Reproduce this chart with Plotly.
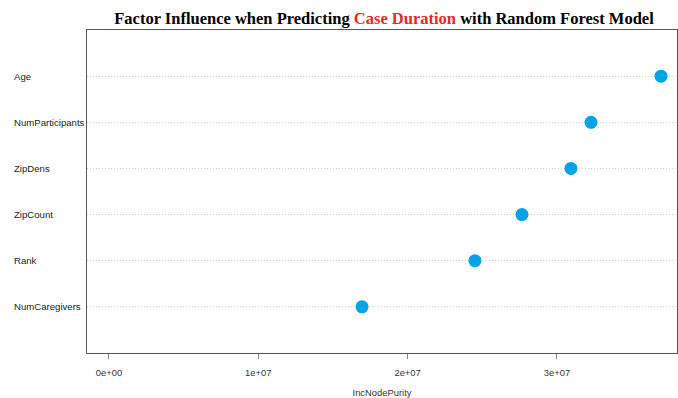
import plotly.graph_objects as go

# Variable importance from the random forest model (IncNodePurity)
factors = ["NumCaregivers", "Rank", "ZipCount", "ZipDens", "NumParticipants", "Age"]
purity = [1.695e7, 2.451e7, 2.766e7, 3.094e7, 3.228e7, 3.697e7]

tick_vals = [0, 1e7, 2e7, 3e7]
tick_text = ["0e+00", "1e+07", "2e+07", "3e+07"]

rows = list(range(1, len(factors) + 1))

fig = go.Figure()
fig.add_trace(go.Scatter(
    x=purity, y=rows, mode="markers",
    marker=dict(size=13, color="#00A3E6"),
    hovertext=factors, showlegend=False,
))

# factor names, left-aligned at the page edge
for name, r in zip(factors, rows):
    fig.add_annotation(
        x=-75 / 590, xref="paper", y=r, yref="y",
        text=name, showarrow=False, xanchor="left", yanchor="middle",
        font=dict(family="Liberation Sans, Arial", size=9.6, color="#222"),
    )

fig.update_layout(
    width=678, height=398,
    margin=dict(l=87, r=1, t=30, b=45, autoexpand=False),
    paper_bgcolor="white", plot_bgcolor="white",
    title=dict(
        text="<b>Factor Influence when Predicting <span style='color:#E8272B'>Case Duration</span> with Random Forest Model</b>",
        x=384 / 678, xanchor="center", y=1 - 18 / 398, yanchor="middle",
        font=dict(family="Liberation Serif, Times New Roman", size=16.5, color="black"),
    ),
    font=dict(family="Liberation Sans, Arial", size=9.4, color="#333"),
)

fig.update_xaxes(
    range=[-0.147e7, 3.804e7],
    tickvals=tick_vals, ticktext=tick_text,
    ticks="outside", ticklen=5, tickcolor="#888",
    ticklabelstandoff=6, automargin=False,
    showline=True, linecolor="#555", linewidth=1, mirror=True,
    showgrid=False, zeroline=False,
    title=dict(text="IncNodePurity", standoff=16,
               font=dict(family="Liberation Sans, Arial", size=9.4, color="#333")),
    tickfont=dict(family="Liberation Sans, Arial", size=9.4, color="#333"),
)
fig.update_yaxes(
    range=[0, 7], automargin=False,
    tickvals=rows, showticklabels=False, ticks="",
    showgrid=True, gridcolor="#D0D0D0", griddash="1px,2px", gridwidth=1,
    showline=True, linecolor="#555", linewidth=1, mirror=True,
    zeroline=False,
)

fig.write_html("out.html")
